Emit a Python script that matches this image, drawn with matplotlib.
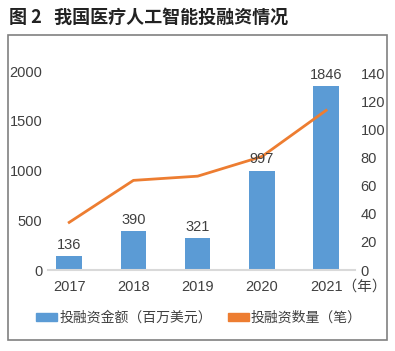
import matplotlib.pyplot as plt
import matplotlib.transforms as mtransforms
from matplotlib.patches import Rectangle, Patch

plt.rcParams['font.family'] = ['Liberation Sans', 'Noto Sans CJK SC']

years = ["2017", "2018", "2019", "2020", "2021"]
amount = [136, 390, 321, 997, 1846]      # 投融资金额(百万美元)
count = [34, 64, 67, 81, 114]            # 投融资数量(笔)

bar_color = "#5B9BD5"
line_color = "#ED7D31"
text_color = "#404040"

fig = plt.figure(figsize=(3.95, 3.51), dpi=100)

# outer frame
fig.patches.append(Rectangle((8 / 395, 1 - 340 / 351), 379 / 395, 305 / 351,
                             transform=fig.transFigure, fill=False,
                             edgecolor="#808080", linewidth=1.2))

fig.text(9 / 395, 1 - 17 / 351, "图 2   我国医疗人工智能投融资情况",
         fontsize=13, fontweight="bold", color="#222222", va="center",
         family=['Noto Sans CJK SC'])

ax = fig.add_axes([48 / 395, 1 - 270 / 351, 307 / 395, 199 / 351])
x = list(range(len(years)))
ax.bar(x, amount, width=0.4, color=bar_color)

ax.set_xlim(-0.33, 4.45)
ax.set_ylim(0, 2000)
ax.set_yticks([0, 500, 1000, 1500, 2000])
ax.set_xticks(x)
ax.set_xticklabels(years[:-1] + [years[-1] + "（年）"])
for s in ["top", "left", "right"]:
    ax.spines[s].set_visible(False)
ax.spines["bottom"].set_color("#D9D9D9")
ax.spines["bottom"].set_linewidth(1.5)
ax.tick_params(axis="y", length=0, labelsize=10.5, labelcolor=text_color, pad=4)
ax.tick_params(axis="x", length=0, labelsize=10.5, labelcolor=text_color, pad=7)

# last label: keep the year centred under its bar, unit hangs to the right
last = ax.get_xticklabels()[-1]
last.set_horizontalalignment("left")
last.set_transform(last.get_transform() +
                   mtransforms.ScaledTranslation(-16 / 100, 0, fig.dpi_scale_trans))

ax2 = ax.twinx()
ax2.plot(x, count, color=line_color, linewidth=2)
ax2.set_ylim(0, 142.1)
ax2.set_yticks(range(0, 141, 20))
for s in ["top", "left", "right", "bottom"]:
    ax2.spines[s].set_visible(False)
ax2.tick_params(axis="y", length=0, labelsize=10.5, labelcolor=text_color, pad=4)

# value labels above bars, drawn on top of the line
for xi, v in zip(x, amount):
    ax2.text(xi, v + 45, str(v), transform=ax.transData, ha="center", va="bottom",
             fontsize=10.5, color=text_color, zorder=5)

handles = [Patch(color=bar_color), Patch(color=line_color)]
fig.legend(handles, ["投融资金额（百万美元）", "投融资数量（笔）"],
           loc="center", bbox_to_anchor=(199 / 395, 1 - 318 / 351), ncol=2,
           frameon=False, labelcolor=text_color,
           prop={'family': ['Noto Sans CJK SC'], 'size': 10},
           handlelength=1.5, handleheight=0.5, columnspacing=1.15, handletextpad=0.15)

fig.savefig("out.png", dpi=100)
